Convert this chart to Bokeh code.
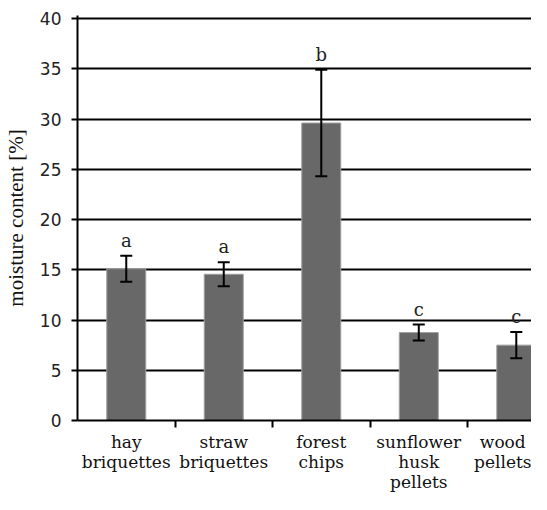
from bokeh.plotting import figure
from bokeh.models import ColumnDataSource, Whisker, FixedTicker, Range1d
from bokeh.core.properties import value
from bokeh.embed import file_html
from bokeh.resources import INLINE

categories = ["hay\nbriquettes", "straw\nbriquettes", "forest\nchips", "sunflower\nhusk\npellets", "wood\npellets"]
moisture = [15.1, 14.55, 29.6, 8.75, 7.5]
errors = [1.3, 1.2, 5.3, 0.8, 1.3]
letters = ["a", "a", "b", "c", "c"]
y_ticks = [0, 5, 10, 15, 20, 25, 30, 35, 40]

xs = [i + 0.5 for i in range(len(categories))]
src = ColumnDataSource(dict(
    x=xs, top=moisture,
    upper=[m + e for m, e in zip(moisture, errors)],
    lower=[m - e for m, e in zip(moisture, errors)],
    letter=letters,
))

p = figure(width=531, height=494, output_backend="svg", toolbar_location=None,
           x_range=Range1d(0, 4.656), y_range=Range1d(0, 40.3),
           min_border_left=77, min_border_right=0, min_border_top=15, min_border_bottom=72)
p.outline_line_color = None
p.background_fill_color = "white"
p.border_fill_color = "white"

p.vbar(x="x", top="top", width=0.4, bottom=0, source=src,
       fill_color="#686868", line_color="#a0a0a0", line_width=1)

w = Whisker(base="x", upper="upper", lower="lower", source=src,
            line_color="black", line_width=2, level="overlay")
w.upper_head.size = 12
w.lower_head.size = 12
w.upper_head.line_width = 2
w.lower_head.line_width = 2
w.upper_head.line_color = "black"
w.lower_head.line_color = "black"
p.add_layout(w)

p.text(x="x", y="upper", text="letter", source=src, y_offset=-5,
       text_align="center", text_baseline="bottom",
       text_font=value("DejaVu Serif"), text_font_size="18px", text_color="#222222")

# grid
p.xgrid.visible = False
p.ygrid.ticker = FixedTicker(ticks=y_ticks)
p.ygrid.grid_line_color = "black"
p.ygrid.grid_line_width = 2

# y axis
p.yaxis.ticker = FixedTicker(ticks=y_ticks)
p.yaxis.axis_line_width = 2
p.yaxis.axis_line_color = "black"
p.yaxis.major_tick_line_width = 2
p.yaxis.major_tick_out = 6
p.yaxis.major_tick_in = 0
p.yaxis.minor_tick_line_color = None
p.yaxis.major_label_text_font = "DejaVu Sans"
p.yaxis.major_label_text_font_size = "17px"
p.yaxis.major_label_text_color = "#222222"
p.yaxis.major_label_standoff = 10
p.yaxis.axis_label = "moisture content [%]"
p.yaxis.axis_label_text_font = "Liberation Serif"
p.yaxis.axis_label_text_font_style = "normal"
p.yaxis.axis_label_text_font_size = "21px"
p.yaxis.axis_label_text_color = "#111111"
p.yaxis.axis_label_standoff = 9

# x axis
p.xaxis.ticker = FixedTicker(ticks=xs, minor_ticks=[1, 2, 3, 4])
p.xaxis.major_label_overrides = {x: c for x, c in zip(xs, categories)}
p.xaxis.axis_line_width = 2
p.xaxis.axis_line_color = "black"
p.xaxis.major_tick_line_color = None
p.xaxis.minor_tick_line_color = "black"
p.xaxis.minor_tick_line_width = 2
p.xaxis.minor_tick_out = 7
p.xaxis.minor_tick_in = 0
p.xaxis.major_label_text_font = "DejaVu Serif"
p.xaxis.major_label_text_font_size = "17px"
p.xaxis.major_label_text_line_height = 1.0
p.xaxis.major_label_text_color = "#111111"
p.xaxis.major_label_standoff = 4

open("out.html", "w").write(file_html(p, INLINE))
